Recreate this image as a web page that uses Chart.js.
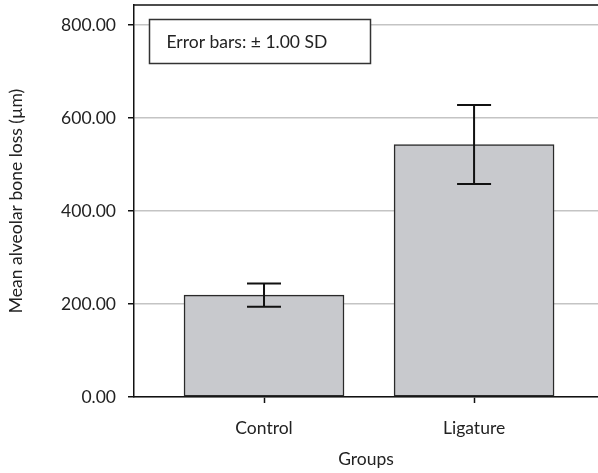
<!DOCTYPE html>
<html>
<head>
<meta charset="utf-8">
<script src="https://cdn.jsdelivr.net/npm/chart.js@4"></script>
<style>
  html, body { margin: 0; padding: 0; background: #fff; }
  #wrap { width: 598px; height: 473px; }
</style>
</head>
<body>
<div id="wrap"><canvas id="c" width="598" height="473"></canvas></div>
<script>
// Group means and standard deviations of alveolar bone loss
const groups = ['Control', 'Ligature'];
const groupPositions = [1, 2];
const meanLoss = [219, 543];
const sdLoss = [25, 85];
const yTicks = [0, 200, 400, 600, 800];

const FONT = 'Lato, "DejaVu Sans", sans-serif';
const FS = 17.5;
const INK = '#222';

// Error bars (mean ± 1 SD) drawn from the dataset values
const errorBars = {
  id: 'errorBars',
  afterDatasetsDraw(chart) {
    const { ctx, scales: { x, y } } = chart;
    ctx.save();
    ctx.strokeStyle = '#111';
    ctx.lineWidth = 2;
    meanLoss.forEach((m, i) => {
      const px = x.getPixelForValue(groupPositions[i]);
      const top = y.getPixelForValue(m + sdLoss[i]);
      const bot = y.getPixelForValue(m - sdLoss[i]);
      const half = 17;
      ctx.beginPath();
      ctx.moveTo(px, top); ctx.lineTo(px, bot);
      ctx.moveTo(px - half, top); ctx.lineTo(px + half, top);
      ctx.moveTo(px - half, bot); ctx.lineTo(px + half, bot);
      ctx.stroke();
    });
    ctx.restore();
  }
};

// Frame top line and the "Error bars" note
const frameAndNote = {
  id: 'frameAndNote',
  afterDraw(chart) {
    const { ctx, chartArea: a } = chart;
    ctx.save();
    ctx.strokeStyle = '#111';
    ctx.lineWidth = 1.5;
    ctx.beginPath();
    ctx.moveTo(a.left, a.top);
    ctx.lineTo(a.right, a.top);
    ctx.stroke();

    const bx = a.left + 15.5, by = a.top + 14.5, bw = 221, bh = 44;
    ctx.fillStyle = '#fff';
    ctx.fillRect(bx, by, bw, bh);
    ctx.strokeStyle = '#333';
    ctx.lineWidth = 1.5;
    ctx.strokeRect(bx, by, bw, bh);
    ctx.fillStyle = INK;
    ctx.font = FS + 'px ' + FONT;
    ctx.textBaseline = 'middle';
    ctx.textAlign = 'left';
    ctx.fillText('Error bars: \u00B1 1.00 SD', bx + 17, by + bh / 2 + 1);
    ctx.restore();
  }
};

new Chart(document.getElementById('c'), {
  type: 'bar',
  data: {
    datasets: [{
      data: groupPositions.map((g, i) => ({ x: g, y: meanLoss[i] })),
      backgroundColor: '#c8c9cd',
      borderColor: '#2a2a2a',
      borderWidth: 1.5,
      borderSkipped: false,
      barThickness: 160
    }]
  },
  options: {
    responsive: false,
    animation: false,
    events: [],
    layout: { padding: { top: 5, right: 0, left: 0, bottom: 0 } },
    plugins: { legend: { display: false }, tooltip: { enabled: false } },
    scales: {
      x: {
        type: 'linear',
        offset: false,
        min: 0.381,
        max: 2.59,
        afterBuildTicks(s) { s.ticks = groupPositions.map(v => ({ value: v })); },
        afterFit(s) { s.height = 76; s.paddingLeft = 0; s.paddingRight = 0; },
        ticks: {
          callback: (v) => groups[groupPositions.indexOf(v)] || '',
          color: INK,
          font: { family: FONT, size: FS },
          padding: 15,
          autoSkip: false,
          maxRotation: 0
        },
        grid: { offset: false, drawOnChartArea: false, drawTicks: true, tickLength: 6, tickColor: '#111', tickWidth: 1.5 },
        border: { color: '#111', width: 1.5 },
        title: {
          display: true,
          text: 'Groups',
          color: INK,
          font: { family: FONT, size: FS },
          padding: { top: 0, bottom: 3 }
        }
      },
      y: {
        min: 0,
        max: 843,
        afterBuildTicks(s) { s.ticks = yTicks.map(v => ({ value: v })); },
        afterFit(s) { s.width = 134; s.paddingTop = 0; s.paddingBottom = 0; },
        ticks: {
          callback: (v) => v.toFixed(2),
          color: INK,
          font: { family: FONT, size: FS },
          padding: 12
        },
        grid: { color: '#c4c4c4', lineWidth: 1.5, drawTicks: true, tickLength: 6, tickColor: '#111', tickWidth: 1.5 },
        border: { color: '#111', width: 1.5 },
        title: {
          display: true,
          text: 'Mean alveolar bone loss (\u00B5m)',
          color: INK,
          font: { family: FONT, size: FS },
          padding: { top: 6, bottom: 0 }
        }
      }
    }
  },
  plugins: [errorBars, frameAndNote]
});
</script>
</body>
</html>
